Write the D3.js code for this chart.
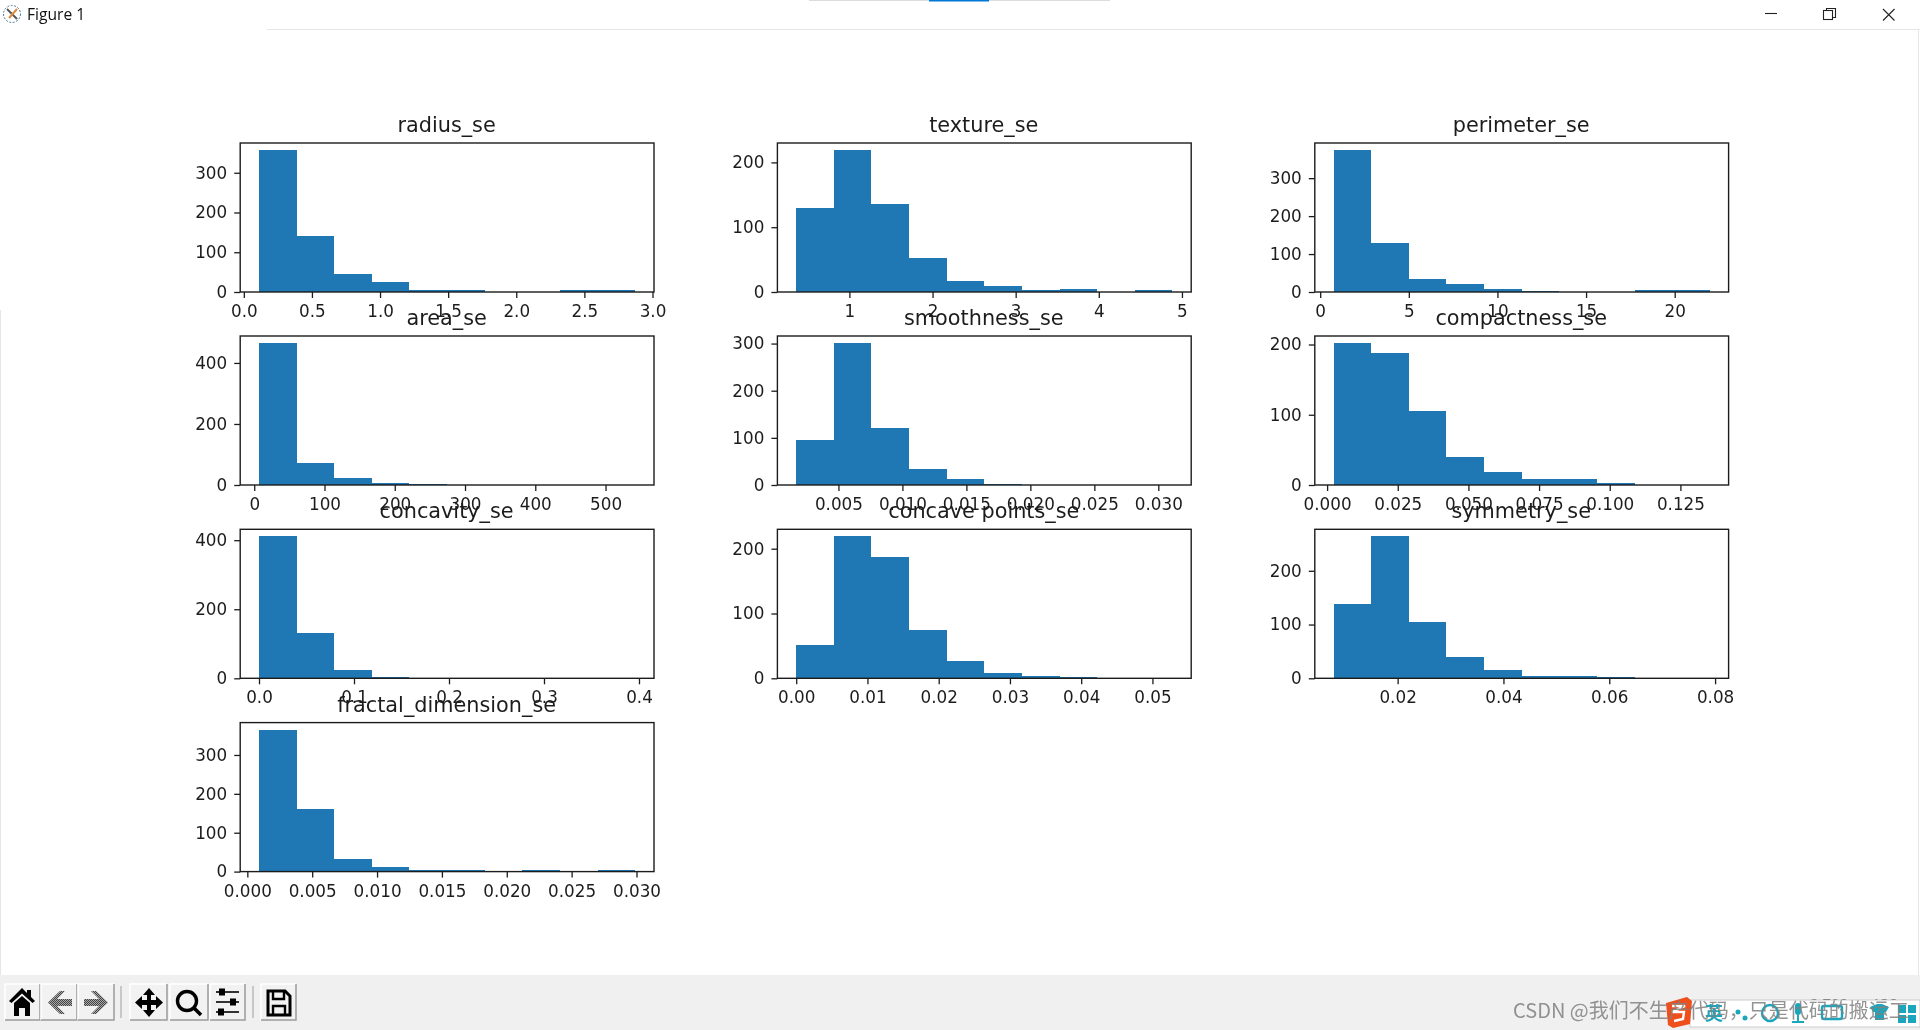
<!DOCTYPE html>
<html>
<head>
<meta charset="utf-8">
<script src="https://cdn.jsdelivr.net/npm/d3@7"></script>
<style>
  html, body { margin: 0; background: #fff; overflow: hidden; }
  svg { display: block; }
  .plot text { font-family: "DejaVu Sans"; fill: #1c1c1c; }
  .win { font-family: "Open Sans", "Noto Sans"; }
</style>
</head>
<body>
<svg id="fig" width="1920" height="1030"></svg>
<script>
const titles = ["radius_se", "texture_se", "perimeter_se", "area_se", "smoothness_se", "compactness_se",
  "concavity_se", "concave points_se", "symmetry_se", "fractal_dimension_se"];

// min and max of each histogram, the ten bins span this range
const xMin = [0.1115, 0.3602, 0.757, 6.802, 0.0017, 0.0023, 0, 0, 0.0079, 0.0009];
const xMax = [2.873, 4.885, 21.98, 542.2, 0.0311, 0.1354, 0.396, 0.0528, 0.0790, 0.0299];

const counts = [
  [357, 140, 45, 26, 5, 5, 0, 0, 5, 5],
  [130, 219, 136, 53, 17, 10, 3, 4, 0, 3],
  [374, 130, 34, 20, 7, 3, 0, 0, 5, 5],
  [465, 72, 22, 6, 2, 1, 0, 0, 0, 1],
  [96, 301, 121, 33, 12, 3, 1, 0, 0, 0],
  [202, 188, 106, 40, 19, 8, 8, 3, 0, 0],
  [411, 131, 25, 5, 1, 0, 0, 0, 0, 0],
  [51, 219, 187, 74, 26, 8, 3, 2, 0, 0],
  [139, 264, 104, 39, 16, 4, 4, 2, 0, 0],
  [365, 161, 32, 13, 5, 5, 0, 5, 0, 5]
];

const xTicks = [
  ["0.0", "0.5", "1.0", "1.5", "2.0", "2.5", "3.0"],
  ["1", "2", "3", "4", "5"],
  ["0", "5", "10", "15", "20"],
  ["0", "100", "200", "300", "400", "500"],
  ["0.005", "0.010", "0.015", "0.020", "0.025", "0.030"],
  ["0.000", "0.025", "0.050", "0.075", "0.100", "0.125"],
  ["0.0", "0.1", "0.2", "0.3", "0.4"],
  ["0.00", "0.01", "0.02", "0.03", "0.04", "0.05"],
  ["0.02", "0.04", "0.06", "0.08"],
  ["0.000", "0.005", "0.010", "0.015", "0.020", "0.025", "0.030"]
];

const yTicks = [
  [0, 100, 200, 300],
  [0, 100, 200],
  [0, 100, 200, 300],
  [0, 200, 400],
  [0, 100, 200, 300],
  [0, 100, 200],
  [0, 200, 400],
  [0, 100, 200],
  [0, 100, 200],
  [0, 100, 200, 300]
];

const svg = d3.select("#fig");
const barColor = "#1f77b4";
const colX = [240.2, 777.4, 1314.8];
const rowY = [143, 336, 529.3, 722.6];
const iWidth = 413.8;
const iHeight = 149;
const soft = "blur(0.45px)";

// window frame first, plots go over it
svg.append("rect").attr("width", 1920).attr("height", 1030).attr("fill", "#fff");
svg.append("line").attr("x1", 267).attr("x2", 1920).attr("y1", 29.5).attr("y2", 29.5).attr("stroke", "#e6e6e6");
svg.append("line").attr("x1", 1918.5).attr("x2", 1918.5).attr("y1", 29).attr("y2", 975).attr("stroke", "#e6e6e6");
svg.append("line").attr("x1", 0.5).attr("x2", 0.5).attr("y1", 310).attr("y2", 975).attr("stroke", "#e6e6e6");
svg.append("line").attr("x1", 809).attr("x2", 1110).attr("y1", 0.5).attr("y2", 0.5).attr("stroke", "#dcdcdc");
svg.append("rect").attr("x", 929).attr("y", 0).attr("width", 60).attr("height", 1.5).attr("fill", "#0078d7");

const plots = svg.append("g").attr("class", "plot").style("filter", soft);

titles.forEach((title, i) => {
  const g = plots.append("g")
    .attr("transform", `translate(${colX[i % 3]},${rowY[Math.floor(i / 3)]})`);

  const pad = (xMax[i] - xMin[i]) * 0.05;
  const x = d3.scaleLinear().domain([xMin[i] - pad, xMax[i] + pad]).range([0, iWidth]);
  const y = d3.scaleLinear().domain([0, d3.max(counts[i]) * 1.05]).range([iHeight, 0]);
  const binW = (xMax[i] - xMin[i]) / counts[i].length;

  g.selectAll("rect.bar")
    .data(counts[i])
    .join("rect")
    .attr("class", "bar")
    .attr("x", (d, k) => x(xMin[i] + k * binW))
    .attr("width", x(xMin[i] + binW) - x(xMin[i]))
    .attr("y", d => y(d))
    .attr("height", d => iHeight - y(d))
    .attr("fill", barColor)
    .attr("shape-rendering", "crispEdges");

  const xAxis = g.append("g")
    .attr("transform", `translate(0,${iHeight})`)
    .call(d3.axisBottom(x)
      .tickValues(xTicks[i].map(Number))
      .tickFormat((d, k) => xTicks[i][k])
      .tickSize(6).tickSizeOuter(0).tickPadding(7));

  const yAxis = g.append("g")
    .call(d3.axisLeft(y)
      .tickValues(yTicks[i])
      .tickSize(6).tickSizeOuter(0).tickPadding(7));

  [xAxis, yAxis].forEach(a => {
    a.select(".domain").remove();
    a.selectAll("line").attr("stroke", "#1c1c1c").attr("stroke-width", 1.3);
    a.selectAll("text").attr("font-size", 16.8).attr("font-family", "DejaVu Sans");
  });

  g.append("rect")
    .attr("width", iWidth).attr("height", iHeight)
    .attr("fill", "none").attr("stroke", "#1c1c1c").attr("stroke-width", 1.4);

  g.append("text")
    .attr("x", iWidth / 2 - 0.5).attr("y", -11)
    .attr("text-anchor", "middle").attr("font-size", 20.8)
    .text(title);
});

// title bar
const icon = svg.append("g").attr("transform", "translate(12,14)");
icon.append("circle").attr("r", 8.5).attr("fill", "none").attr("stroke", "#4a7a96").attr("stroke-width", 1).attr("stroke-dasharray", "2 1.5");
icon.append("line").attr("x1", -5).attr("y1", -5).attr("x2", 5).attr("y2", 5).attr("stroke", "#555").attr("stroke-width", 2);
icon.append("line").attr("x1", 5).attr("y1", -5).attr("x2", -3).attr("y2", 4).attr("stroke", "#e08a3c").attr("stroke-width", 2);
svg.append("text").attr("class", "win").attr("x", 27).attr("y", 19.5).attr("font-size", 15.6).attr("fill", "#111").text("Figure 1");

const caption = svg.append("g").attr("fill", "none").attr("stroke", "#222").attr("stroke-width", 1.1);
caption.append("line").attr("x1", 1765).attr("x2", 1777).attr("y1", 13.5).attr("y2", 13.5);
caption.append("rect").attr("x", 1823.5).attr("y", 10.5).attr("width", 9).attr("height", 9);
caption.append("path").attr("d", "M1826.5 10.5V8.5H1835.5V17.5H1832.5");
caption.append("path").attr("d", "M1883 9L1894.5 20.5M1894.5 9L1883 20.5");

// toolbar
svg.append("rect").attr("y", 975).attr("width", 1920).attr("height", 55).attr("fill", "#f0f0f0");

const defs = svg.append("defs");
const hatch = defs.append("pattern").attr("id", "hatch").attr("width", 2).attr("height", 2).attr("patternUnits", "userSpaceOnUse");
hatch.append("rect").attr("width", 2).attr("height", 2).attr("fill", "#a8a8a8");
hatch.append("rect").attr("width", 1).attr("height", 1).attr("fill", "#444");
hatch.append("rect").attr("x", 1).attr("y", 1).attr("width", 1).attr("height", 1).attr("fill", "#444");

const buttons = [
  { x: 5, w: 35, path: "M22 988L27 993V990H31V997L35 1001L32.5 1003L22 993.5L11.5 1003L9 1001ZM14 1003L22 996L30 1003V1016H25V1008H19V1016H14Z", fill: "#000" },
  { x: 41, w: 36, path: "M48 1002.5L60 991H65L57 999H72V1006H57L65 1014H60Z", fill: "url(#hatch)" },
  { x: 78, w: 36, path: "M108 1002.5L96 991H91L99 999H84V1006H99L91 1014H96Z", fill: "url(#hatch)" },
  { x: 130, w: 37, path: "M149 988L155 995H151V1000H156V996L163 1002.5L156 1009V1005H151V1010H155L149 1017L143 1010H147V1005H142V1009L135 1002.5L142 996V1000H147V995H143Z", fill: "#000" },
  { x: 170, w: 38, zoom: true },
  { x: 210, w: 35, sliders: true },
  { x: 261, w: 35, save: true }
];

const tools = svg.append("g").style("filter", "blur(0.4px)");
buttons.forEach(b => {
  tools.append("rect").attr("x", b.x).attr("y", 984).attr("width", b.w).attr("height", 36)
    .attr("fill", "#f2f2f2");
  tools.append("path")
    .attr("d", `M${b.x} 1020V984H${b.x + b.w}`).attr("fill", "none").attr("stroke", "#fff").attr("stroke-width", 1.5);
  tools.append("path")
    .attr("d", `M${b.x + b.w} 984V1020H${b.x}`).attr("fill", "none").attr("stroke", "#9a9a9a").attr("stroke-width", 1.5);
  if (b.path) tools.append("path").attr("d", b.path).attr("fill", b.fill);
  if (b.zoom) {
    tools.append("circle").attr("cx", 187).attr("cy", 1001).attr("r", 9.5).attr("fill", "none").attr("stroke", "#000").attr("stroke-width", 3.4);
    tools.append("line").attr("x1", 194).attr("y1", 1008).attr("x2", 201).attr("y2", 1015).attr("stroke", "#000").attr("stroke-width", 3.6);
  }
  if (b.sliders) {
    [[992, 222], [1002, 233], [1012, 221]].forEach(([sy, kx]) => {
      tools.append("line").attr("x1", 216).attr("x2", 239).attr("y1", sy).attr("y2", sy).attr("stroke", "#000").attr("stroke-width", 1.6);
      tools.append("rect").attr("x", kx - 3).attr("y", sy - 3.5).attr("width", 6).attr("height", 7).attr("fill", "#000");
    });
  }
  if (b.save) {
    tools.append("path").attr("d", "M268 991H285L290 996V1015H268Z").attr("fill", "none").attr("stroke", "#000").attr("stroke-width", 3);
    tools.append("path").attr("d", "M273 991V999H284V991M273 1015V1006H285V1015").attr("fill", "none").attr("stroke", "#000").attr("stroke-width", 2.4);
  }
});
[121, 253].forEach(sx => {
  tools.append("line").attr("x1", sx).attr("x2", sx).attr("y1", 986).attr("y2", 1018).attr("stroke", "#c8c8c8").attr("stroke-width", 2);
});

// status text is cut off by the IME bar that lies over it
const corner = svg.append("g");
corner.append("text").attr("class", "win").attr("x", 1810).attr("y", 1009).attr("font-size", 15).attr("fill", "#444").text("2.702");
corner.append("text").attr("class", "win").attr("x", 1872).attr("y", 1009).attr("font-size", 15).attr("fill", "#444").text("138");
corner.append("rect").attr("x", 1690).attr("y", 1000).attr("width", 230).attr("height", 27).attr("fill", "#fff").attr("stroke", "#ccc");

const teal = "#1aa6bd";
const ime = corner.append("g").style("filter", "blur(0.5px)");
ime.append("path").attr("d", "M1666 1003L1687 997L1692 1001L1690 1024L1673 1028L1668 1025Z").attr("fill", "#ee4f1c");
ime.append("path").attr("d", "M1672 1006H1685L1672 1012H1684L1683 1019L1674 1021").attr("fill", "none").attr("stroke", "#fff").attr("stroke-width", 2.4);
ime.append("text").attr("x", 1705).attr("y", 1020).attr("font-family", "Noto Sans CJK SC").attr("font-size", 18).attr("font-weight", 700).attr("fill", teal).text("英");
ime.append("circle").attr("cx", 1738).attr("cy", 1012).attr("r", 2.5).attr("fill", teal);
ime.append("circle").attr("cx", 1745).attr("cy", 1018).attr("r", 2.5).attr("fill", teal);
ime.append("circle").attr("cx", 1770).attr("cy", 1013).attr("r", 8).attr("fill", "none").attr("stroke", teal).attr("stroke-width", 2.4);
ime.append("rect").attr("x", 1795).attr("y", 1003).attr("width", 6).attr("height", 12).attr("rx", 3).attr("fill", teal);
ime.append("path").attr("d", "M1798 1015V1022M1792 1022H1804").attr("stroke", teal).attr("stroke-width", 2);
ime.append("rect").attr("x", 1822).attr("y", 1006).attr("width", 20).attr("height", 13).attr("rx", 2).attr("fill", "none").attr("stroke", teal).attr("stroke-width", 2.4);
ime.append("path").attr("d", "M1870 1007L1877 1004L1882 1004L1889 1007L1886 1012H1884V1020H1875V1012H1873Z").attr("fill", teal);
[[1898, 1005], [1908, 1005], [1898, 1015], [1908, 1015]].forEach(([ix, iy]) => {
  ime.append("rect").attr("x", ix).attr("y", iy).attr("width", 8).attr("height", 8).attr("fill", teal);
});

// watermark sits over everything
corner.append("text")
  .attr("x", 1513).attr("y", 1018)
  .attr("font-family", "Noto Sans CJK SC").attr("font-size", 20).attr("fill", "#808080").attr("fill-opacity", 0.85)
  .text("CSDN @我们不生产代码，只是代码的搬运工");
</script>
</body>
</html>
